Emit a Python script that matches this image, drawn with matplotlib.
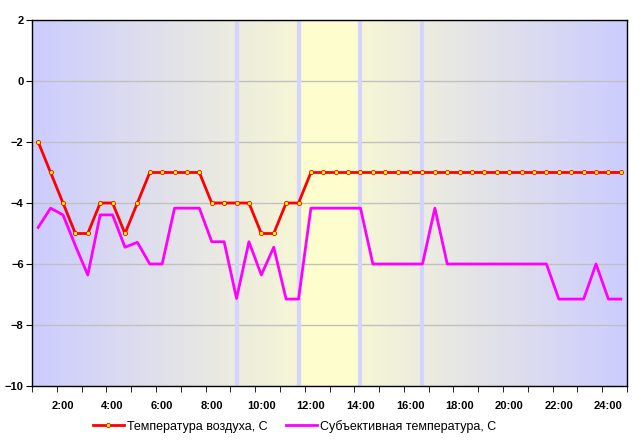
import numpy as np
import matplotlib.pyplot as plt
from matplotlib.colors import to_rgb

plt.rc('font', family='Liberation Sans', size=8)

# полчасовые отсчёты, 1:00 ... 24:30
hours = np.arange(1.0, 24.51, 0.5)

t_air = [-2, -3, -4, -5, -5, -4, -4, -5, -4, -3, -3, -3, -3, -3, -4, -4,
         -4, -4, -5, -5, -4, -4, -3, -3, -3, -3, -3, -3, -3, -3, -3, -3,
         -3, -3, -3, -3, -3, -3, -3, -3, -3, -3, -3, -3, -3, -3, -3, -3]

t_subj = [-4.8, -4.17, -4.39, -5.4, -6.36, -4.39, -4.39, -5.45, -5.29, -6.0,
          -6.0, -4.17, -4.17, -4.17, -5.27, -5.27, -7.13, -5.27, -6.36, -5.45,
          -7.15, -7.15, -4.17, -4.17, -4.17, -4.17, -4.17, -6.0, -6.0, -6.0,
          -6.0, -6.0, -4.17, -6.0, -6.0, -6.0, -6.0, -6.0, -6.0, -6.0,
          -6.0, -6.0, -7.15, -7.15, -7.15, -6.0, -7.15, -7.15]

stripes = [9.0, 11.5, 14.0, 16.5]
tick_labels = [f"{h}:00" for h in range(2, 25, 2)]

x0, x1 = 0.75, 24.75

fig = plt.figure(figsize=(6.4, 4.44), dpi=100)
ax = fig.add_axes([0.05, 0.1306, 0.9297, 0.8244])

# фон: градиент синий -> жёлтый -> синий
xs = np.linspace(x0, x1, 600)
c = (x0 + x1) / 2
t = 1 - np.abs(xs - c) / (c - x0)
blue = np.array(to_rgb('#ccccff'))
yel = np.array(to_rgb('#fbfbd0'))
cols = blue[None, :] * (1 - t[:, None]) + yel[None, :] * t[:, None]
band = (xs >= 11.5) & (xs <= 14.0)
cols[band] = cols[band] * 0.25 + np.array(to_rgb('#ffffcc')) * 0.75
ax.imshow(cols[None, :, :], extent=[x0, x1, -10, 2], aspect='auto', zorder=0)

for s in stripes:
    ax.axvline(s, color='#d4d4ff', lw=3, zorder=1)

ax.grid(axis='y', color='#c0c0c0', lw=1, zorder=1)
ax.set_axisbelow(True)

ax.plot(hours, t_air, color='red', lw=2, marker='o', ms=3,
        mfc='yellow', mec='red', mew=0.6, zorder=3,
        label='Температура воздуха, С')
ax.plot(hours, t_subj, color='#ff00ff', lw=2, zorder=3,
        label='Субъективная температура, С')

ax.set_xlim(x0, x1)
ax.set_ylim(-10, 2)
ax.set_yticks(np.arange(-10, 3, 2))
ax.set_xticks(np.arange(2, 25, 2))
ax.set_xticklabels(tick_labels, fontweight='bold')
ax.set_xticks(np.arange(x0, x1 + 0.01, 1.0), minor=True)
ax.tick_params(axis='x', which='major', length=0, pad=11)
ax.tick_params(axis='x', which='minor', length=4, direction='out')
ax.tick_params(axis='y', length=4, direction='out', pad=2)
for lab in ax.get_yticklabels():
    lab.set_fontweight('bold')
for sp in ax.spines.values():
    sp.set_color('black')
    sp.set_linewidth(1)

fig.legend(loc='center', bbox_to_anchor=(0.46, 0.04), ncol=2, frameon=False,
           fontsize=9, handlelength=2.5, columnspacing=1.5, handletextpad=0.2)

fig.savefig('out.png', dpi=100)
